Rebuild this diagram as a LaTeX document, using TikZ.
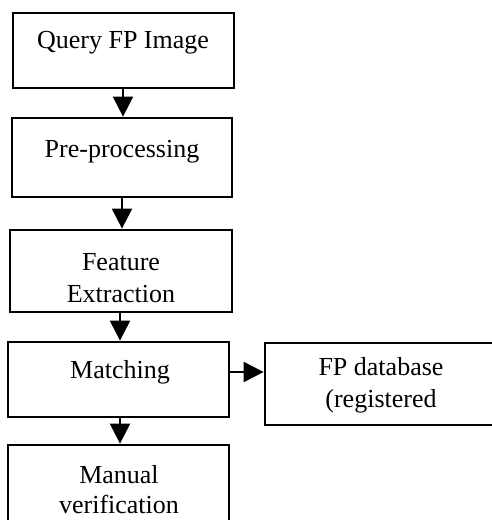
\documentclass[tikz,border=0pt]{standalone}
\usepackage{fontspec}
\setmainfont{Liberation Serif}
\usetikzlibrary{arrows.meta}
\begin{document}
\begin{tikzpicture}[x=1pt,y=-1pt,
  stagebox/.style={draw,line width=2.8pt,rectangle,inner sep=0pt},
  label/.style={anchor=base,inner sep=0pt,font=\fontsize{26}{30}\selectfont},
  flow/.style={line width=2.2pt,-{Triangle[length=20pt,width=20pt]}}]
\useasboundingbox (0,0) rectangle (492,520);
\clip (0,0) rectangle (492,520);
% stage boxes (centre, width, height)
\node[stagebox,minimum width=221pt,minimum height=75pt] (b1) at (123.5,50.5) {};
\node[stagebox,minimum width=220pt,minimum height=79pt] (b2) at (122,157.5) {};
\node[stagebox,minimum width=222pt,minimum height=82pt] (b3) at (121,271) {};
\node[stagebox,minimum width=221pt,minimum height=75pt] (b4) at (118.5,379.5) {};
\node[stagebox,minimum width=221pt,minimum height=95pt] (b5) at (118.5,492.5) {};
\node[stagebox,minimum width=232pt,minimum height=82pt] (b6) at (381,384) {};
% box texts
\node[label] (t1) at (123,48) {Query FP Image};
\node[label] (t2) at (122,157) {Pre-processing};
\node[label] (t3a) at (121,270) {Feature};
\node[label] (t3b) at (121,302) {Extraction};
\node[label] (t4) at (120,378) {Matching};
\node[label] (t5a) at (119,483) {Manual};
\node[label] (t5b) at (119,513) {verification};
\node[label] (t6a) at (381,375) {FP database};
\node[label] (t6b) at (381,407) {(registered};
% connectors
\draw[flow] (b1.south -| 123,0) -- (b2.north -| 123,0);
\draw[flow] (b2.south -| 122,0) -- (b3.north -| 122,0);
\draw[flow] (b3.south -| 120,0) -- (b4.north -| 120,0);
\draw[flow] (b4.south -| 120,0) -- (b5.north -| 120,0);
\coordinate (m) at (b4.east |- 0,372);
\draw[flow] (m) -- (m -| b6.west);
\end{tikzpicture}
\end{document}
